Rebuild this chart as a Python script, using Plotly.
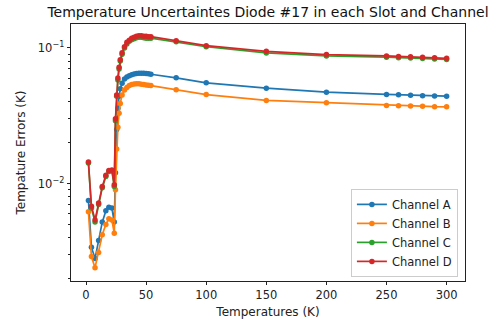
import plotly.graph_objects as go

temps = [2, 4.5, 7.5, 10.5, 13.5, 16.5, 19, 21.5, 23.5,
         24.5, 25.5, 26.5, 27.5, 28.5, 30, 32, 34, 36, 38, 40, 42, 44, 46, 48, 50, 52, 54,
         75, 100, 150, 200, 250, 260, 270, 280, 290, 300]

chan_a = [0.0075, 0.0034, 0.0028, 0.0038, 0.0052, 0.0063, 0.0067, 0.0066, 0.0052,
          0.012, 0.025, 0.036, 0.044, 0.050, 0.055, 0.059, 0.061, 0.0625, 0.0635, 0.0643,
          0.0647, 0.065, 0.065, 0.065, 0.0648, 0.0645, 0.064,
          0.0602, 0.0553, 0.0505, 0.0472, 0.0454, 0.0451, 0.0448, 0.0445, 0.0443, 0.0441]
chan_b = [0.0062, 0.0029, 0.0024, 0.0031, 0.0042, 0.0050, 0.0055, 0.0054, 0.0043,
          0.009, 0.018, 0.026, 0.033, 0.039, 0.045, 0.049, 0.051, 0.0528, 0.0537, 0.0543,
          0.0545, 0.0545, 0.054, 0.0537, 0.0533, 0.053, 0.0528,
          0.0491, 0.0453, 0.041, 0.0394, 0.0377, 0.0375, 0.0373, 0.0371, 0.0369, 0.0368]
chan_c = [0.0142, 0.0066, 0.0052, 0.0070, 0.0093, 0.0113, 0.0123, 0.0124, 0.0095,
          0.029, 0.044, 0.058, 0.070, 0.080, 0.090, 0.100, 0.107, 0.112, 0.115, 0.117,
          0.119, 0.120, 0.120, 0.119, 0.118, 0.118, 0.118,
          0.111, 0.102, 0.0919, 0.0873, 0.0855, 0.0848, 0.0842, 0.0835, 0.0828, 0.0822]
chan_d = [0.0144, 0.0068, 0.0054, 0.0072, 0.0095, 0.0115, 0.0125, 0.0126, 0.0098,
          0.030, 0.045, 0.060, 0.072, 0.082, 0.092, 0.102, 0.110, 0.114, 0.118, 0.120,
          0.122, 0.123, 0.123, 0.122, 0.122, 0.121, 0.121,
          0.113, 0.104, 0.0944, 0.0893, 0.0873, 0.0866, 0.086, 0.0853, 0.0845, 0.0838]

names = ["Channel A", "Channel B", "Channel C", "Channel D"]
colors = ["#1f77b4", "#ff7f0e", "#2ca02c", "#d62728"]
series = [chan_a, chan_b, chan_c, chan_d]

x_ticks = [0, 50, 100, 150, 200, 250, 300]
y_major = [0.01, 0.1]
y_major_text = ["10<sup>−2</sup>", "10<sup>−1</sup>"]
y_minor = [k * 0.001 for k in range(2, 10)] + [k * 0.01 for k in range(2, 10)]

fig = go.Figure()
for nm, col, ys in zip(names, colors, series):
    fig.add_trace(go.Scatter(x=temps, y=ys, mode="lines+markers", name=nm,
                             line=dict(color=col, width=1.7),
                             marker=dict(color=col, size=5.5)))

font = "DejaVu Sans, sans-serif"
fig.update_layout(
    width=501, height=324,
    margin=dict(l=71, r=36, t=24, b=43, autoexpand=False),
    paper_bgcolor="white", plot_bgcolor="white",
    font=dict(family=font, size=11, color="#222"),
    title=dict(text="Temperature Uncertaintes Diode #17 in each Slot and Channel",
               x=268 / 501, xref="container", xanchor="center",
               y=1 - 12 / 324, yref="container", yanchor="middle",
               font=dict(size=14, color="#111")),
    showlegend=True,
    legend=dict(x=0.982, xref="paper", xanchor="right",
                y=0.016, yref="paper", yanchor="bottom",
                bgcolor="rgba(255,255,255,0.85)", bordercolor="#ccc", borderwidth=1,
                font=dict(size=11.5, color="#222"), itemwidth=30,
                tracegroupgap=0),
)
fig.update_xaxes(range=[-12.5, 315.3], tickmode="array", tickvals=x_ticks,
                 ticks="outside", ticklen=3.5, tickcolor="#222", tickwidth=0.8,
                 showline=True, linecolor="#222", linewidth=0.8, mirror=True,
                 showgrid=False, zeroline=False, tickfont=dict(size=11.5),
                 title=dict(text="Temperatures (K)", standoff=6, font=dict(size=12)))
fig.update_yaxes(type="log", range=[-2.718, -0.8235], tickmode="array",
                 tickvals=y_major, ticktext=y_major_text,
                 ticks="outside", ticklen=3.5, tickcolor="#222", tickwidth=0.8,
                 minor=dict(tickmode="array", tickvals=y_minor, ticks="outside",
                            ticklen=2, tickcolor="#222", tickwidth=0.6, showgrid=False),
                 showline=True, linecolor="#222", linewidth=0.8, mirror=True,
                 showgrid=False, zeroline=False, tickfont=dict(size=11.5),
                 title=dict(text="Tempature Errors (K)", standoff=9, font=dict(size=12)))

fig.write_html("out.html")
